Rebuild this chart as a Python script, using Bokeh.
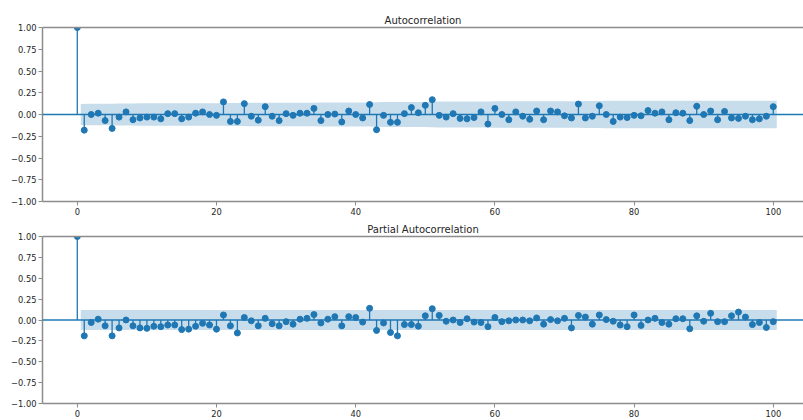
from bokeh.plotting import figure
from bokeh.models import Range1d, FixedTicker, LinearAxis, Span, CustomJSTickFormatter
from bokeh.layouts import column
from bokeh.embed import file_html
from bokeh.resources import INLINE

lags = list(range(0, 101))

acf_values = [
    1.0,
    -0.18, 0.0, 0.015, -0.07, -0.16, -0.03, 0.03, -0.06, -0.04, -0.03,
    -0.03, -0.05, 0.01, 0.01, -0.05, -0.03, 0.015, 0.03, 0.0, -0.01,
    0.145, -0.08, -0.08, 0.125, -0.02, -0.065, 0.09, -0.02, -0.07, 0.01,
    -0.01, 0.015, 0.015, 0.07, -0.07, 0.0, 0.005, -0.085, 0.04, 0.0,
    -0.04, 0.115, -0.175, -0.01, -0.09, -0.09, 0.01, 0.08, 0.02, 0.105,
    0.17, -0.01, -0.03, 0.01, -0.045, -0.05, -0.035, 0.03, -0.11, 0.07,
    0.0, -0.06, 0.03, -0.02, -0.055, 0.04, -0.06, 0.04, 0.03, -0.015,
    -0.04, 0.12, -0.04, -0.02, 0.10, 0.0, -0.08, -0.03, -0.035, -0.01,
    -0.015, 0.045, 0.015, 0.03, -0.06, 0.02, 0.015, -0.07, 0.095, 0.0,
    0.04, -0.06, 0.035, -0.04, -0.045, -0.02, -0.06, -0.05, -0.02, 0.09,
]

pacf_values = [
    1.0,
    -0.19, -0.03, 0.01, -0.07, -0.19, -0.095, 0.0, -0.07, -0.095, -0.10,
    -0.075, -0.08, -0.06, -0.06, -0.115, -0.11, -0.075, -0.04, -0.06, -0.11,
    0.06, -0.07, -0.155, 0.03, -0.01, -0.07, 0.02, -0.045, -0.07, -0.02,
    -0.05, 0.01, 0.02, 0.065, -0.035, 0.01, 0.04, -0.07, 0.04, 0.03,
    -0.025, 0.14, -0.125, -0.035, -0.15, -0.19, -0.055, -0.055, -0.075, 0.05,
    0.135, 0.055, -0.015, 0.0, -0.03, 0.015, -0.025, -0.03, -0.08, 0.03,
    -0.02, -0.01, 0.0, 0.0, -0.01, 0.025, -0.05, 0.005, -0.01, 0.02,
    -0.095, 0.055, 0.035, -0.05, 0.06, 0.005, -0.015, -0.06, -0.08, 0.06,
    -0.065, 0.0, 0.02, -0.03, -0.05, 0.015, 0.015, -0.105, 0.05, -0.015,
    0.08, -0.02, -0.02, 0.05, 0.095, 0.035, -0.055, -0.03, -0.09, -0.02,
]

# half-width of the confidence band for lags 1..100
acf_band = [
    0.120, 0.124, 0.124, 0.124, 0.124, 0.127, 0.127, 0.127, 0.128, 0.128,
    0.128, 0.128, 0.128, 0.128, 0.128, 0.129, 0.129, 0.129, 0.129, 0.129,
    0.129, 0.131, 0.132, 0.133, 0.135, 0.135, 0.135, 0.136, 0.136, 0.136,
    0.136, 0.136, 0.136, 0.136, 0.137, 0.138, 0.138, 0.138, 0.138, 0.138,
    0.138, 0.138, 0.140, 0.143, 0.143, 0.144, 0.145, 0.145, 0.145, 0.145,
    0.147, 0.150, 0.150, 0.150, 0.150, 0.150, 0.150, 0.150, 0.150, 0.151,
    0.152, 0.152, 0.152, 0.152, 0.152, 0.152, 0.152, 0.152, 0.152, 0.152,
    0.152, 0.152, 0.155, 0.155, 0.155, 0.157, 0.157, 0.157, 0.157, 0.157,
    0.157, 0.157, 0.157, 0.157, 0.157, 0.157, 0.157, 0.157, 0.157, 0.159,
    0.159, 0.159, 0.159, 0.159, 0.159, 0.159, 0.159, 0.159, 0.159, 0.159,
]
pacf_band_width = 0.12
pacf_band = [pacf_band_width] * 100

y_ticks = [-1.0, -0.75, -0.5, -0.25, 0.0, 0.25, 0.5, 0.75, 1.0]
x_ticks = [0, 20, 40, 60, 80, 100]

C0 = "#1f77b4"
SPINE = "#8c8c8c"
TXT = "#262626"


def make_fig(title, values, band, height, top, bottom):
    p = figure(width=803, height=height,
               x_range=Range1d(-5, 104.34), y_range=Range1d(-1, 1),
               output_backend="svg", toolbar_location=None, title=title,
               min_border_left=42, min_border_right=0,
               min_border_top=top, min_border_bottom=bottom)
    p.title.align = "center"
    p.title.text_font = "DejaVu Sans"
    p.title.text_font_size = "10px"
    p.title.text_font_style = "normal"
    p.title.text_color = TXT
    p.title.standoff = 3
    p.grid.visible = False
    p.outline_line_color = None

    band_x = [lags[1] - 0.5] + lags[2:-1] + [lags[-1] + 0.5]
    p.varea(x=band_x, y1=[-b for b in band], y2=band,
            fill_color=C0, fill_alpha=0.25)
    p.segment(x0=lags, y0=[0] * len(lags), x1=lags, y1=values,
              line_color=C0, line_width=1.3)
    p.scatter(x=lags, y=values, size=6, fill_color=C0, line_color=C0)
    p.add_layout(Span(location=0, dimension="width", line_color=C0,
                      line_width=1.3))

    for ax in p.xaxis + p.yaxis:
        ax.axis_line_color = SPINE
        ax.axis_line_width = 1.5
        ax.major_tick_line_color = SPINE
        ax.major_tick_in = 0
        ax.major_tick_out = 4
        ax.minor_tick_line_color = None
        ax.major_label_text_font = "DejaVu Sans"
        ax.major_label_text_font_size = "8.3px"
        ax.major_label_text_color = TXT
        ax.major_label_standoff = 2
    p.xaxis.ticker = FixedTicker(ticks=x_ticks)
    p.yaxis.ticker = FixedTicker(ticks=y_ticks)
    p.yaxis.formatter = CustomJSTickFormatter(
        code='return (tick < 0 ? "\\u2212" : "") + Math.abs(tick).toFixed(2);')

    top_spine = LinearAxis(ticker=FixedTicker(ticks=[]),
                           axis_line_color=SPINE, axis_line_width=1.5,
                           major_tick_line_color=None,
                           minor_tick_line_color=None,
                           major_label_text_font_size="0px")
    p.add_layout(top_spine, "above")
    return p


p1 = make_fig("Autocorrelation", acf_values, acf_band, 218, 27, 17)
p2 = make_fig("Partial Autocorrelation", pacf_values, pacf_band, 202, 18, 17)

layout = column(p1, p2, spacing=0)
open("out.html", "w").write(file_html(layout, INLINE))
